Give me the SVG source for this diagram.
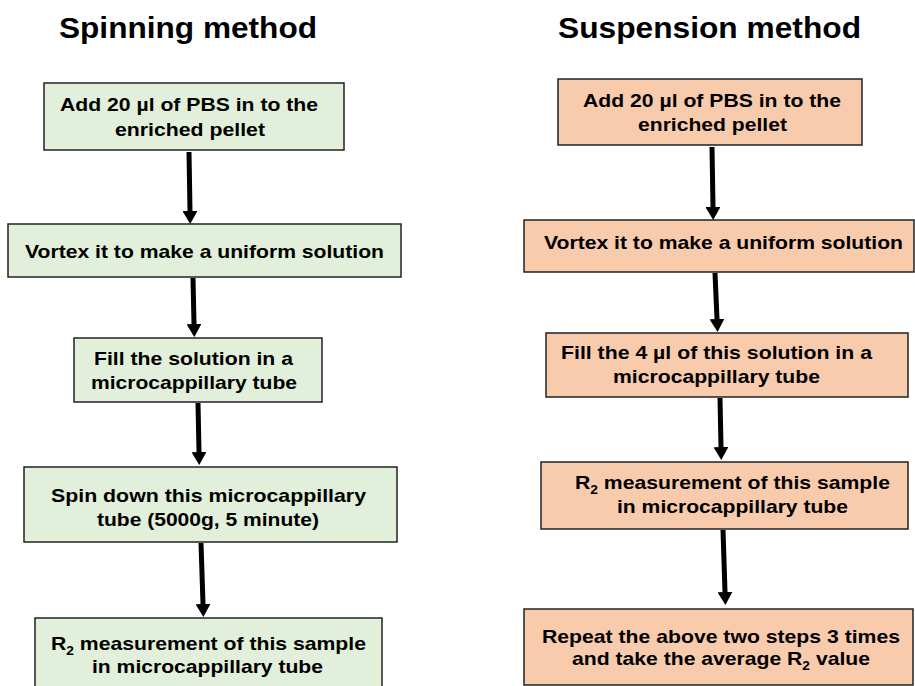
<svg xmlns="http://www.w3.org/2000/svg" width="915" height="686" viewBox="0 0 915 686">
<style>
text{font-family:"Liberation Sans",Arial,sans-serif;font-weight:bold;fill:#000}
.t{font-size:30px}
.b{font-size:18.5px}
.sub{font-size:12px}
.g{fill:#E2EFDA;stroke:#222;stroke-width:1.5}
.o{fill:#F8CBAD;stroke:#222;stroke-width:1.5}
.c line{stroke:#000;stroke-width:5;marker-end:url(#ah)}
</style>
<defs>
<marker id="ah" markerUnits="userSpaceOnUse" markerWidth="13" markerHeight="15" refX="0" refY="7.5" orient="auto" viewBox="0 0 13 15">
<path d="M0,0 L13,7.5 L0,15 z" fill="#000"/>
</marker>
</defs>
<rect width="915" height="686" fill="#fff"/>
<text class="t" x="59" y="38" textLength="258" lengthAdjust="spacingAndGlyphs">Spinning method</text>
<text class="t" x="558" y="38" textLength="303" lengthAdjust="spacingAndGlyphs">Suspension method</text>

<g id="L1"><rect class="g" x="44" y="83" width="300" height="67"/>
<text class="b" x="60" y="111" textLength="258" lengthAdjust="spacingAndGlyphs">Add 20 µl of PBS in to the</text>
<text class="b" x="115" y="136" textLength="150" lengthAdjust="spacingAndGlyphs">enriched pellet</text></g>
<g id="L2"><rect class="g" x="8" y="224" width="393" height="53"/>
<text class="b" x="25" y="258" textLength="359" lengthAdjust="spacingAndGlyphs">Vortex it to make a uniform solution</text></g>
<g id="L3"><rect class="g" x="74" y="338" width="248" height="64"/>
<text class="b" x="94" y="365" textLength="199" lengthAdjust="spacingAndGlyphs">Fill the solution in a</text>
<text class="b" x="91" y="389" textLength="206" lengthAdjust="spacingAndGlyphs">microcappillary tube</text></g>
<g id="L4"><rect class="g" x="24" y="467" width="373" height="75"/>
<text class="b" x="51" y="502" textLength="315" lengthAdjust="spacingAndGlyphs">Spin down this microcappillary</text>
<text class="b" x="97" y="526" textLength="222" lengthAdjust="spacingAndGlyphs">tube (5000g, 5 minute)</text></g>
<g id="L5"><rect class="g" x="35" y="618" width="347" height="80"/>
<text class="b" x="51" y="650" textLength="315" lengthAdjust="spacingAndGlyphs">R<tspan class="sub" dy="5">2</tspan><tspan dy="-5"> measurement of this sample</tspan></text>
<text class="b" x="92" y="673" textLength="231" lengthAdjust="spacingAndGlyphs">in microcappillary tube</text></g>

<g id="R1"><rect class="o" x="558" y="79" width="304" height="66"/>
<text class="b" x="583" y="107" textLength="258" lengthAdjust="spacingAndGlyphs">Add 20 µl of PBS in to the</text>
<text class="b" x="638" y="131" textLength="149" lengthAdjust="spacingAndGlyphs">enriched pellet</text></g>
<g id="R2"><rect class="o" x="524" y="220" width="390" height="52"/>
<text class="b" x="544" y="249" textLength="359" lengthAdjust="spacingAndGlyphs">Vortex it to make a uniform solution</text></g>
<g id="R3"><rect class="o" x="546" y="333" width="362" height="64"/>
<text class="b" x="561" y="359" textLength="311" lengthAdjust="spacingAndGlyphs">Fill the 4 µl of this solution in a</text>
<text class="b" x="613" y="383" textLength="207" lengthAdjust="spacingAndGlyphs">microcappillary tube</text></g>
<g id="R4"><rect class="o" x="541" y="462" width="367" height="67"/>
<text class="b" x="575" y="489" textLength="315" lengthAdjust="spacingAndGlyphs">R<tspan class="sub" dy="5">2</tspan><tspan dy="-5"> measurement of this sample</tspan></text>
<text class="b" x="617" y="513" textLength="231" lengthAdjust="spacingAndGlyphs">in microcappillary tube</text></g>
<g id="R5"><rect class="o" x="524" y="609" width="389" height="76"/>
<text class="b" x="542" y="643" textLength="358" lengthAdjust="spacingAndGlyphs">Repeat the above two steps 3 times</text>
<text class="b" x="572" y="665" textLength="298" lengthAdjust="spacingAndGlyphs">and take the average R<tspan class="sub" dy="5">2</tspan><tspan dy="-5"> value</tspan></text></g>

<g id="connectors" class="c">
<line x1="189" y1="152" x2="190" y2="211"/>
<line x1="193" y1="278" x2="194" y2="324"/>
<line x1="198" y1="403" x2="199" y2="452"/>
<line x1="201" y1="543" x2="203" y2="604"/>
<line x1="712" y1="147" x2="713" y2="207"/>
<line x1="715" y1="273" x2="717" y2="319"/>
<line x1="720" y1="398" x2="721" y2="447"/>
<line x1="723" y1="530" x2="725" y2="592"/>
</g>
</svg>
